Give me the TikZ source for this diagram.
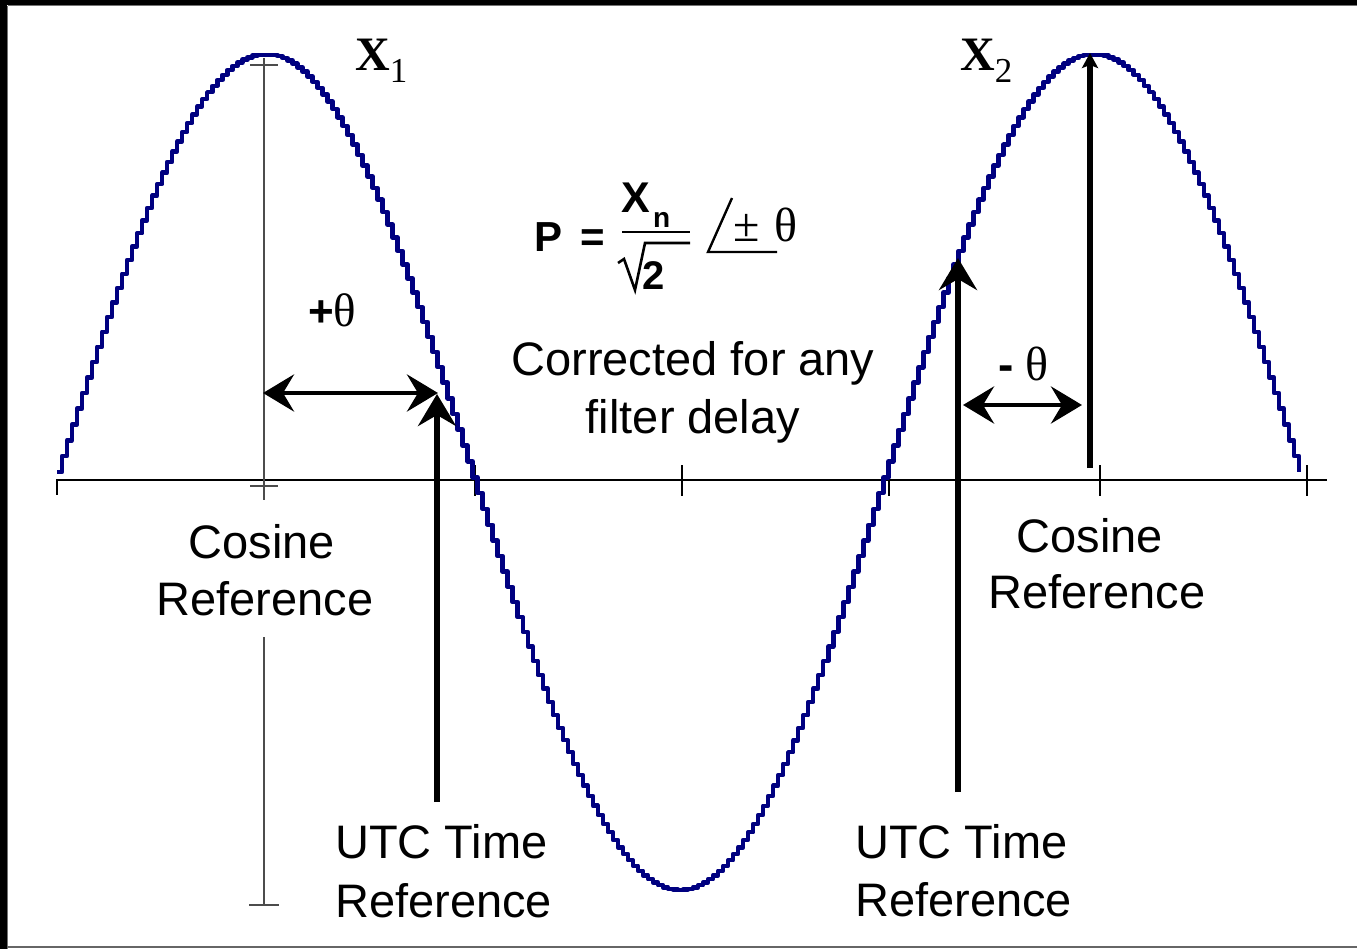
\documentclass[tikz,border=0pt]{standalone}
\usepackage{fontspec}
\setmainfont{Liberation Sans}
\newfontfamily\serif{Liberation Serif}
\usetikzlibrary{arrows.meta}
\definecolor{wave}{RGB}{0,0,128}
\begin{document}
\begin{tikzpicture}[x=1pt,y=-1pt,
  lbl/.style={font=\fontsize{47}{57}\selectfont, inner sep=0pt, anchor=base},
  lblw/.style={lbl, anchor=base west},
  thinln/.style={line width=1.2pt, black!70},
  axisln/.style={line width=1.1pt, black},
  bigarrow/.style={line width=5.5pt, -{Stealth[length=32pt,width=38pt,inset=11pt]}},
  smallarrow/.style={line width=5.5pt, -{Stealth[length=15pt,width=16pt,inset=3pt]}},
  dblarrow/.style={line width=4.8pt, {Stealth[length=31pt,width=37pt,inset=11pt]}-{Stealth[length=31pt,width=37pt,inset=11pt]}},
  mathln/.style={line width=2.8pt, black}
]
\useasboundingbox (0,0) rectangle (1357,949);
\fill[white] (0,0) rectangle (1357,949);
% frame
\fill[black] (0,0) rectangle (1357,5);
\fill[black] (0,0) rectangle (7,949);
\draw[black!55, line width=1.2pt] (7.6,5.6) -- (1357,5.6);
\draw[black!55, line width=1.2pt] (7.6,5.6) -- (7.6,949);
\draw[black!60, line width=2pt] (7,946.5) -- (1357,946.5);

% axis and ticks
\coordinate (axL) at (56,480);
\coordinate (axR) at (1327,480);
\draw[axisln] (axL) -- (axR);
\draw[axisln] (57,480) -- (57,495);
\foreach \t in {475,682,889,1100,1307} \draw[axisln] (\t,465) -- (\t,496);

% left cosine reference line
\coordinate (cr1top) at (264,58);
\coordinate (cr1mid) at (264,500);
\coordinate (cr1low) at (264,637);
\coordinate (cr1bot) at (264,905);
\draw[thinln] (cr1top) -- (cr1mid);
\draw[thinln] (cr1low) -- (cr1bot);
\draw[thinln] (250,65) -- (278,65);
\draw[thinln] (250,486) -- (278,486);
\draw[thinln] (249,905) -- (279,905);

% waveform
\draw[wave, line width=4.5pt, line join=round, const plot]
  plot[domain=57:1299, samples=249] (\x,{max(472-418*cos((\x-264)/828*360),55)});

% arrows
\coordinate (u1b) at (437,802);
\coordinate (u1t) at (437,394);
\draw[bigarrow] (u1b) -- (u1t);
\coordinate (u2b) at (958,792);
\coordinate (u2t) at (958,258);
\draw[bigarrow] (u2b) -- (u2t);
\coordinate (c2b) at (1090,468);
\coordinate (c2t) at (1090,53);
\draw[smallarrow] (c2b) -- (c2t);
\coordinate (d1l) at (263,393);
\coordinate (d1r) at (438,393);
\draw[dblarrow] (d1l) -- (d1r);
\coordinate (d2l) at (963,405);
\coordinate (d2r) at (1082,405);
\draw[dblarrow] (d2l) -- (d2r);

% labels
\node[lbl] (cos1a) at (262,558) {Cosine};
\node[lbl] (cos1b) at (265,615) {Reference};
\node[lbl] (cos2a) at (1090,552) {Cosine};
\node[lbl] (cos2b) at (1097,608) {Reference};
\node[lblw] (utc1a) at (335,858) {UTC Time};
\node[lblw] (utc1b) at (335,917) {Reference};
\node[lblw] (utc2a) at (855,858) {UTC Time};
\node[lblw] (utc2b) at (855,916) {Reference};
\node[lbl] (corra) at (693,376) {Corrected for any};
\node[lbl] (corrb) at (693,433) {filter delay};

\node[inner sep=0pt, anchor=base west] (x1) at (355,71)
  {\serif\bfseries\fontsize{48}{48}\selectfont X\raisebox{-12pt}{\mdseries\fontsize{35}{35}\selectfont 1}};
\node[inner sep=0pt, anchor=base west] (x2) at (960,71)
  {\serif\bfseries\fontsize{48}{48}\selectfont X\raisebox{-12pt}{\mdseries\fontsize{35}{35}\selectfont 2}};
\node[inner sep=0pt, anchor=base west] (pth) at (308,327)
  {{\bfseries\fontsize{44}{44}\selectfont +}{\serif\fontsize{47}{47}\selectfont θ}};
\node[inner sep=0pt, anchor=base west] (mth) at (998,381)
  {{\bfseries\fontsize{46}{46}\selectfont -}\hspace{12pt}{\serif\fontsize{48}{48}\selectfont θ}};

% formula
\node[inner sep=0pt, anchor=base west, font=\bfseries\fontsize{42}{42}\selectfont] (fP) at (534,252) {P};
\node[inner sep=0pt, anchor=base west, font=\bfseries\fontsize{42}{42}\selectfont] (feq) at (580,252) {=};
\node[inner sep=0pt, anchor=base west, font=\bfseries\fontsize{43}{43}\selectfont] (fX) at (621,213) {X};
\node[inner sep=0pt, anchor=base west, font=\bfseries\fontsize{28}{28}\selectfont] (fn) at (653,228) {n};
\draw[mathln] (622,232) -- (690,232);
\draw[line width=2.6pt, line join=miter] (618,263) -- (624,259) -- (635,290) -- (645,243) -- (690,243);
\node[inner sep=0pt, anchor=base west, font=\bfseries\fontsize{40}{40}\selectfont] (f2) at (642,290) {2};
\draw[line width=2.4pt] (732,198) -- (708,252) -- (777,252);
\node[inner sep=0pt, anchor=base west, font=\serif\fontsize{48}{48}\selectfont] (fpm) at (733,242) {±};
\node[inner sep=0pt, anchor=base west, font=\serif\fontsize{48}{48}\selectfont] (fth) at (774,242) {θ};
\end{tikzpicture}
\end{document}
